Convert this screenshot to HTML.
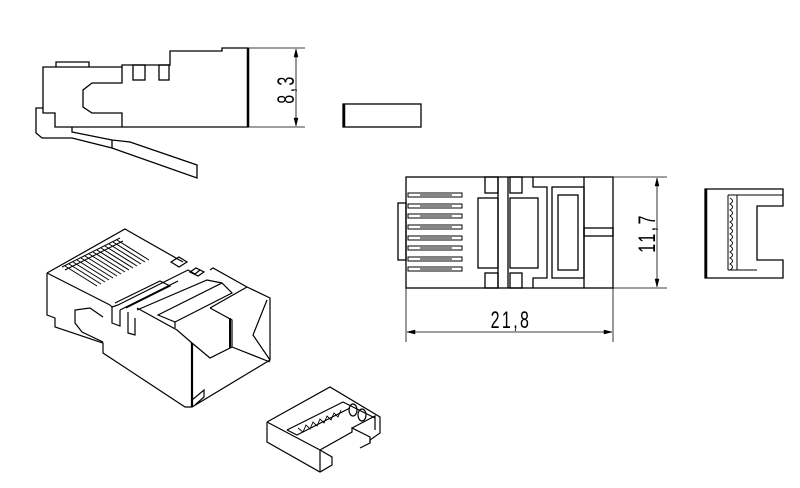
<!DOCTYPE html>
<html><head><meta charset="utf-8"><style>html,body{margin:0;padding:0;background:#fff}svg{display:block}</style></head><body>
<svg width="800" height="488" viewBox="0 0 800 488" xmlns="http://www.w3.org/2000/svg" fill="none" stroke="#000" stroke-width="1.3" stroke-linejoin="miter">
<!-- Side view -->
<path d="M55,127 V113 H43 V67 H122 V65 H170 V51 H222 V48 H248 V127 Z"/>
<path d="M56,67 V62 H89 V67"/>
<rect x="133" y="65" width="12" height="15"/><rect x="159" y="65" width="10" height="15"/>
<path d="M122,67 V83 H92 L83,90 V107 L92,113 H122 V127"/>
<path d="M43,108 H36 V133 L42,138 H72 L112,148 L197,178 V165 L130,142 L112,140 L72,132 V127"/>
<line x1="112" y1="140" x2="112" y2="148"/>
<line x1="248" y1="48" x2="248" y2="127" stroke-width="2.5"/>
<path d="M248,48 H305 M248,127 H305 M296,49 V126" stroke-width="0.8"/>
<path d="M296,49 l-2,8 h4 z M296,126 l-2,-8 h4 z" fill="#000" stroke-width="0.5"/>
<text transform="translate(294,89) rotate(-90) scale(0.8,1.2)" font-family="Liberation Sans, sans-serif" font-size="20" letter-spacing="3" text-anchor="middle" fill="#000" stroke="none">8,3</text>
<rect x="343" y="104" width="78" height="23"/><line x1="344" y1="104" x2="344" y2="127" stroke-width="2.5"/>
<!-- Top view -->
<rect x="406" y="177" width="207" height="111"/>
<rect x="398" y="203" width="8" height="57"/>
<g stroke-width="1">
<rect x="408" y="193" width="54" height="4"/><rect x="408" y="204" width="54" height="4"/><rect x="408" y="214" width="54" height="4"/><rect x="408" y="225" width="54" height="4"/><rect x="408" y="236" width="54" height="4"/><rect x="408" y="246" width="54" height="4"/><rect x="408" y="257" width="54" height="4"/><rect x="408" y="267" width="54" height="4"/>
</g>
<g fill="#888" stroke="none">
<rect x="420" y="194" width="32" height="2"/><rect x="420" y="205" width="32" height="2"/><rect x="420" y="215" width="32" height="2"/><rect x="420" y="226" width="32" height="2"/><rect x="420" y="237" width="32" height="2"/><rect x="420" y="247" width="32" height="2"/><rect x="420" y="258" width="32" height="2"/><rect x="420" y="268" width="32" height="2"/>
</g>
<rect x="478" y="198" width="20" height="70"/>
<line x1="498" y1="177" x2="498" y2="288"/><line x1="508" y1="177" x2="508" y2="288"/>
<rect x="485" y="177" width="13" height="16"/><rect x="510" y="177" width="12" height="16"/>
<rect x="485" y="273" width="13" height="15"/><rect x="510" y="273" width="12" height="15"/>
<rect x="510" y="198" width="28" height="70"/>
<path d="M533,177 V187 H547 V278 H533 V288"/>
<rect x="552" y="187" width="32" height="91"/><rect x="558" y="195" width="20" height="75"/>
<line x1="584" y1="177" x2="584" y2="288"/>
<rect x="584" y="228" width="29" height="8"/>
<path d="M613,177 H667 M613,288 H667 M657,178 V287" stroke-width="0.8"/>
<path d="M657,178 l-2,8 h4 z M657,287 l-2,-8 h4 z" fill="#000" stroke-width="0.5"/>
<text transform="translate(655,233) rotate(-90) scale(0.8,1.2)" font-family="Liberation Sans, sans-serif" font-size="20" letter-spacing="3" text-anchor="middle" fill="#000" stroke="none">11,7</text>
<path d="M406,288 V342 M613,288 V342 M407,332 H612" stroke-width="0.8"/>
<path d="M407,332 l8,-2 v4 z M612,332 l-8,-2 v4 z" fill="#000" stroke-width="0.5"/>
<text transform="translate(511,328) scale(0.8,1.2)" font-family="Liberation Sans, sans-serif" font-size="20" letter-spacing="3" text-anchor="middle" fill="#000" stroke="none">21,8</text>
<!-- End view -->
<path d="M783,206 V189 H705 V278 H783 V260 H757 V206 Z"/>
<line x1="706" y1="189" x2="706" y2="278" stroke-width="2.5"/>
<path d="M728,195 H783 M728,270 H757 M728,195 V270 M737,195 V270" stroke-width="1"/>
<path d="M730,198 q5,3 0,6 q5,3 0,6 q5,3 0,6 q5,3 0,6 q5,3 0,6 q5,3 0,6 q5,3 0,6 q5,3 0,6 q5,3 0,6 q5,3 0,6 q5,3 0,6 q5,3 0,6" stroke-width="0.9"/>
<!-- Iso plug -->
<g stroke-width="1.2">
<path d="M47,273 L125,229 L183,262"/>
<path d="M47,273 V315 L55,318 V327 L103,343 V353 L185,407 H192 L270,360 V298 L247,287 L213,268 L210,270"/>
<path d="M47,273 L110,305"/>
<path d="M103,317 L90,308 L75,310 V323 L82,332 L103,342"/>
<path d="M110,305 L112,307 V323 L120,326 V310"/>
<path d="M112,307 L118,305 L188,270 L195,274 L200,270"/>
<path d="M120,310 L178,281"/>
<path d="M128,312 V333 L135,335 V318"/>
<path d="M137,310 L207,280 L222,283"/>
<path d="M158,315 L222,283 L232,293 L175,322 Z M175,322 V328"/>
<path d="M137,308 L177,330 L192,343"/>
<path d="M192,343 V407" stroke-width="2.2"/>
<path d="M192,343 L210,358 L232,347 V320 L210,308 M232,347 L270,362"/>
<path d="M210,308 L247,287"/>
<path d="M267,300 L253,335 L270,360"/>
<path d="M230,318 V348" stroke-width="2"/>
<path d="M192,400 L204,390 V397 L195,405"/>
<path d="M171,262 l8,-5 l8,5 l-8,5 z M190,272 l6,-4 l8,4 l-6,4 z"/>
<path d="M115,303 L160,281 L170,286 L126,308"/>
<g stroke-width="1">
<path d="M62,267 L120,238 M65,270 L123,241"/>
<path d="M65,266 L97,286 M69,264 L101,284"/>
<path d="M73,262 L105,282 M77,260 L109,280"/>
<path d="M81,258 L113,278 M85,256 L117,276"/>
<path d="M89,254 L121,274 M93,252 L125,272"/>
<path d="M97,250 L129,270 M101,248 L133,268"/>
<path d="M105,246 L137,266 M109,244 L141,264"/>
<path d="M113,242 L145,262 M117,240 L149,260"/>
</g>
</g>
<!-- Iso cap -->
<g stroke-width="1.2">
<path d="M267,422 L330,387 L380,417 V433 L370,440 V443"/>
<path d="M267,422 V442 L320,472 L332,465 V457 L320,450 L267,422"/>
<path d="M320,450 V472"/>
<path d="M320,450 L352,432 V428 L370,437 V443 L360,448"/>
<path d="M352,428 L375,416 V430"/>
<path d="M287,430 L343,402 L375,418"/>
<path d="M287,430 L297,435 L350,408"/>
<path d="M298,428 l5,4 l3,-7 l4,4 l3,-7 l4,4 l3,-7 l4,4 l3,-7 l4,4 l3,-7 l4,4 l3,-7" stroke-width="0.9"/>
<ellipse cx="353" cy="410" rx="4" ry="6"/><ellipse cx="362" cy="415" rx="4" ry="6"/>
</g>
</svg>
</body></html>
